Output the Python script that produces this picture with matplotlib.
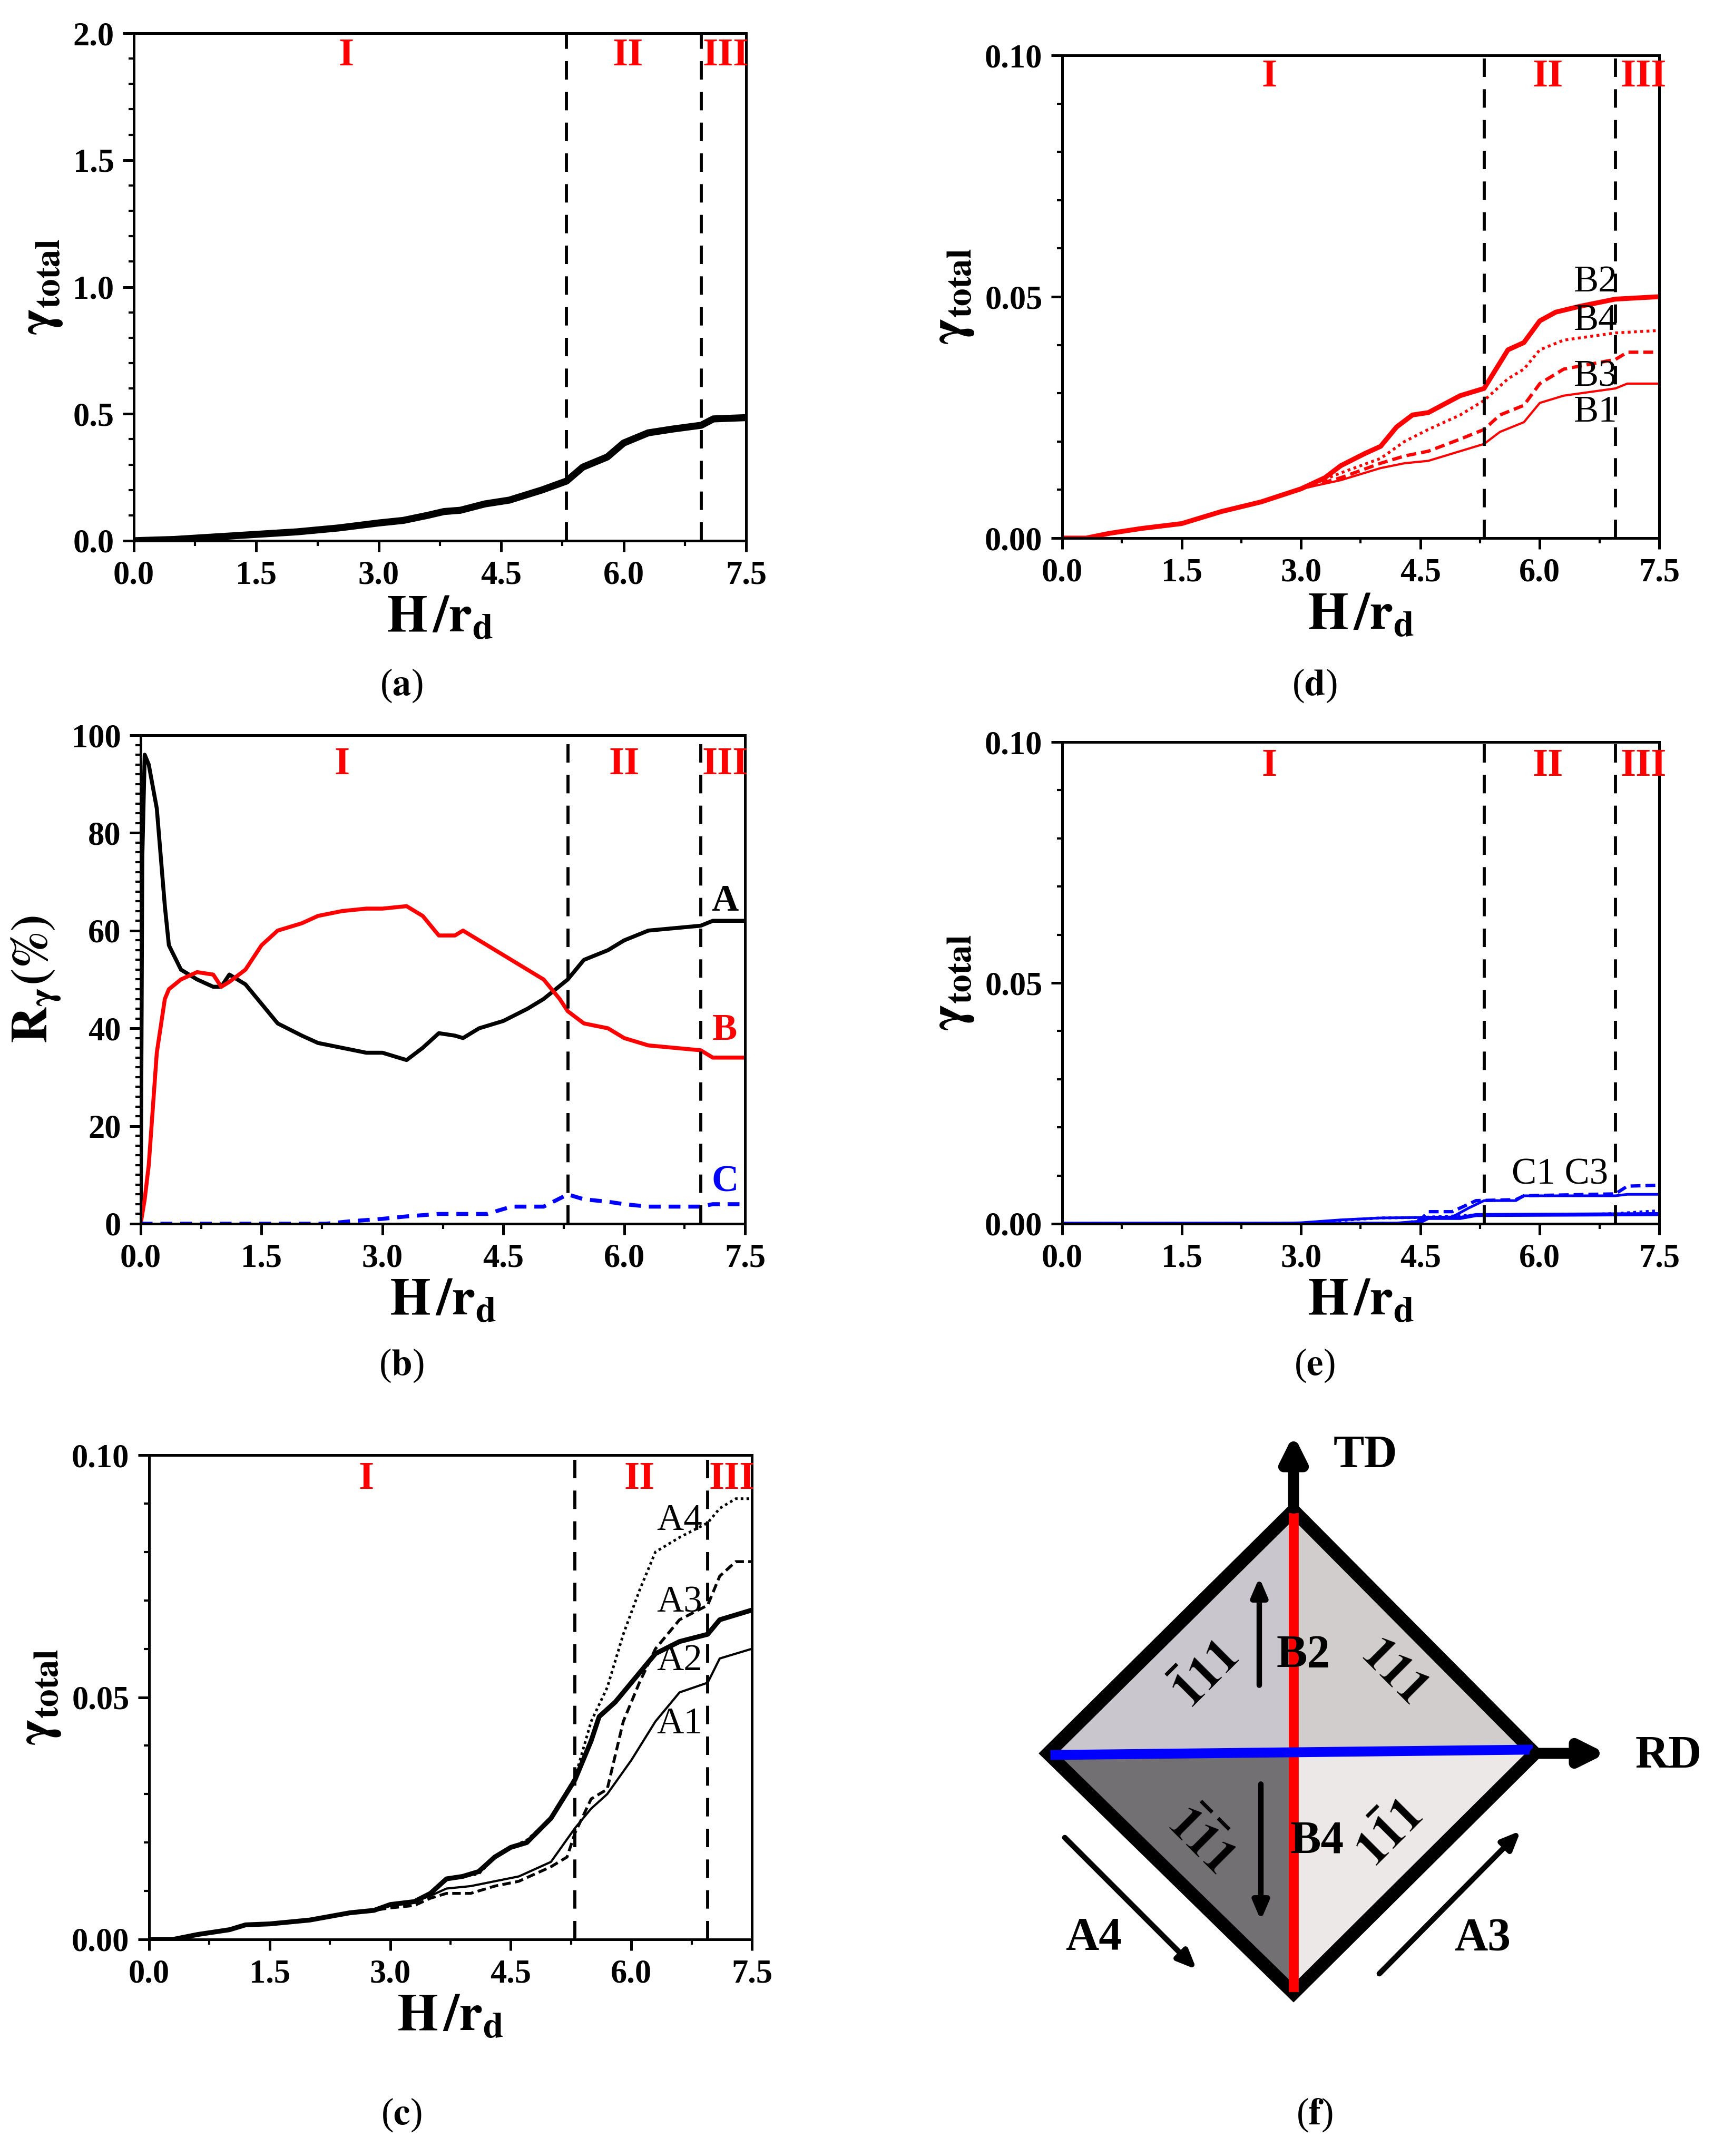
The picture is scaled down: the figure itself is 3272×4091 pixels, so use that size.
import numpy as np
import matplotlib.pyplot as plt
from matplotlib.patches import Polygon

plt.rcParams['font.family'] = 'Liberation Serif'
plt.rcParams['mathtext.fontset'] = 'stix'

W, H = 3272, 4091

# region borders (H/r_d)
STAGE_1_2 = 5.3
STAGE_2_3 = 6.95

# (a) total shear strain
a_x = [0, 0.5, 1, 1.5, 2, 2.5, 3, 3.3, 3.6, 3.8, 4, 4.3, 4.6, 5, 5.3, 5.5, 5.8, 6, 6.3, 6.6, 6.95, 7.1, 7.5]
a_y = [0, 0.005, 0.015, 0.025, 0.035, 0.05, 0.07, 0.08, 0.1, 0.115, 0.12, 0.145, 0.16, 0.2, 0.235,
       0.29, 0.33, 0.385, 0.425, 0.44, 0.455, 0.48, 0.485]

# (b) relative contribution of slip modes
bA_x = [0, 0.02, 0.05, 0.1, 0.2, 0.3, 0.35, 0.5, 0.7, 0.9, 1.0, 1.1, 1.3, 1.5, 1.7, 2, 2.2, 2.5, 2.8, 3.0,
        3.3, 3.5, 3.7, 3.9, 4.0, 4.2, 4.5, 4.8, 5.0, 5.3, 5.5, 5.8, 6.0, 6.3, 6.95, 7.1, 7.5]
bA_y = [0, 75, 96, 94, 85, 65, 57, 52, 50, 48.5, 48.5, 51, 49, 45, 41, 38.5, 37, 36, 35, 35,
        33.5, 36, 39, 38.5, 38, 40, 41.5, 44, 46, 50, 54, 56, 58, 60, 61, 62, 62]
bB_x = [0, 0.05, 0.1, 0.2, 0.3, 0.35, 0.5, 0.7, 0.9, 1.0, 1.1, 1.3, 1.5, 1.7, 2.0, 2.2, 2.5, 2.8, 3.0,
        3.3, 3.5, 3.7, 3.9, 4.0, 4.2, 4.5, 4.8, 5.0, 5.2, 5.3, 5.5, 5.8, 6.0, 6.3, 6.95, 7.1, 7.5]
bB_y = [0, 5, 12, 35, 46, 48, 50, 51.5, 51, 48.5, 49.5, 52, 57, 60, 61.5, 63, 64, 64.5, 64.5,
        65, 63, 59, 59, 60, 58, 55, 52, 50, 46, 43.5, 41, 40, 38, 36.5, 35.5, 34, 34]
bC_x = [0, 2.3, 2.6, 3.0, 3.3, 3.7, 4.3, 4.5, 4.6, 4.8, 5.0, 5.3, 5.5, 5.8, 6.0, 6.3, 6.95, 7.1, 7.5]
bC_y = [0, 0, 0.5, 1, 1.5, 2, 2, 3, 3.5, 3.5, 3.5, 6, 5, 4.5, 4, 3.5, 3.5, 4, 4]

# (c) A slip systems
c_base_x = [0, 0.3, 0.6, 1.0, 1.2, 1.5, 2, 2.5, 2.8, 3.0]
c_base_y = [0, 0, 0.001, 0.002, 0.003, 0.0032, 0.004, 0.0055, 0.006, 0.0072]
cA2_x = c_base_x + [3.3, 3.5, 3.7, 3.9, 4.1, 4.3, 4.5, 4.7, 5.0, 5.3, 5.5, 5.6, 5.8, 6.0, 6.3, 6.6, 6.95, 7.1, 7.5]
cA2_y = c_base_y + [0.0078, 0.0095, 0.0125, 0.013, 0.014, 0.017, 0.019, 0.02, 0.025, 0.033, 0.041, 0.046,
                    0.049, 0.053, 0.059, 0.0615, 0.063, 0.066, 0.068]
cA4_x = c_base_x + [3.3, 3.5, 3.7, 3.9, 4.1, 4.3, 4.5, 4.7, 5.0, 5.3, 5.5, 5.7, 5.9, 6.1, 6.3, 6.6, 6.95, 7.1, 7.3, 7.5]
cA4_y = c_base_y + [0.0078, 0.0095, 0.0125, 0.013, 0.0135, 0.017, 0.019, 0.0205, 0.025, 0.0335, 0.045, 0.052,
                    0.063, 0.072, 0.080, 0.083, 0.086, 0.089, 0.091, 0.091]
cA3_x = c_base_x + [3.3, 3.5, 3.7, 4.0, 4.3, 4.6, 5.0, 5.2, 5.3, 5.5, 5.7, 5.9, 6.1, 6.3, 6.6, 6.95, 7.1, 7.3, 7.5]
cA3_y = c_base_y[:-1] + [0.0065, 0.007, 0.0085, 0.0095, 0.0095, 0.011, 0.012, 0.015, 0.017, 0.022, 0.029,
                         0.031, 0.045, 0.053, 0.060, 0.066, 0.069, 0.075, 0.078, 0.078]
cA1_x = c_base_x + [3.3, 3.5, 3.7, 4.0, 4.3, 4.6, 5.0, 5.3, 5.5, 5.7, 6.0, 6.3, 6.6, 6.95, 7.1, 7.5]
cA1_y = c_base_y + [0.0078, 0.009, 0.0105, 0.011, 0.012, 0.013, 0.016, 0.023, 0.027, 0.030, 0.037, 0.045,
                    0.051, 0.053, 0.058, 0.060]

# (d) B slip systems
d_base_x = [0, 0.3, 0.6, 1.0, 1.5, 2.0, 2.5, 3.0]
d_base_y = [0, 0, 0.001, 0.002, 0.003, 0.0055, 0.0075, 0.0102]
dB2_x = d_base_x + [3.3, 3.5, 3.8, 4.0, 4.2, 4.4, 4.6, 5.0, 5.3, 5.45, 5.6, 5.8, 6.0, 6.2, 6.5, 6.95, 7.5]
dB2_y = d_base_y + [0.0125, 0.015, 0.0175, 0.019, 0.023, 0.0255, 0.026, 0.0295, 0.031, 0.035, 0.039,
                    0.0405, 0.045, 0.0468, 0.048, 0.0495, 0.050]
dB4_x = d_base_x + [3.5, 4.0, 4.3, 4.6, 5.0, 5.3, 5.6, 5.8, 6.0, 6.3, 6.95, 7.5]
dB4_y = d_base_y + [0.0135, 0.0165, 0.020, 0.0225, 0.0255, 0.0285, 0.033, 0.035, 0.039, 0.041, 0.0425, 0.043]
dB3_x = d_base_x + [3.5, 4.0, 4.3, 4.6, 5.0, 5.3, 5.5, 5.8, 6.0, 6.3, 6.95, 7.1, 7.5]
dB3_y = d_base_y + [0.0125, 0.0155, 0.017, 0.018, 0.0205, 0.0225, 0.0255, 0.0275, 0.032, 0.035, 0.037, 0.0385, 0.0385]
dB1_x = d_base_x + [3.5, 4.0, 4.3, 4.6, 5.0, 5.3, 5.5, 5.8, 6.0, 6.3, 6.95, 7.1, 7.5]
dB1_y = d_base_y + [0.012, 0.0145, 0.0155, 0.016, 0.018, 0.0195, 0.022, 0.024, 0.028, 0.0295, 0.031, 0.032, 0.032]

# (e) C slip systems
eC1_x = [0, 2.5, 3.0, 3.5, 4.0, 4.5, 4.9, 5.1, 5.3, 5.7, 5.8, 6.95, 7.1, 7.5]
eC1_y = [0, 0, 0.0002, 0.0008, 0.0012, 0.0013, 0.0014, 0.0032, 0.0048, 0.0048, 0.0058, 0.0058, 0.0061, 0.0061]
eC3_x = [0, 4.3, 4.5, 4.6, 4.9, 5.2, 5.7, 5.8, 6.95, 7.1, 7.5]
eC3_y = [0, 0, 0.0008, 0.0025, 0.0025, 0.0048, 0.0050, 0.0058, 0.0062, 0.0078, 0.0080]
eC2_x = [0, 4.2, 4.5, 4.6, 5.0, 5.2, 6.5, 7.5]
eC2_y = [0, 0, 0.0004, 0.0012, 0.0012, 0.0018, 0.0019, 0.0020]
eC4_x = [0, 3.0, 3.5, 4.0, 4.5, 5.2, 6.5, 6.95, 7.5]
eC4_y = [0, 0, 0.0007, 0.0012, 0.0013, 0.0018, 0.0019, 0.0021, 0.0027]

fig = plt.figure(figsize=(W / 300, H / 300), dpi=300)


def make_ax(l, r, t, b):
    return fig.add_axes([l / W, 1 - b / H, (r - l) / W, (b - t) / H])


def style(ax, ymax, yticks, ylabel, ytickfmt, minor_y):
    ax.set_xlim(0, 7.5)
    ax.set_ylim(0, ymax)
    ax.set_xticks(np.arange(0, 7.51, 1.5))
    ax.set_xticklabels([f'{v:.1f}' for v in np.arange(0, 7.51, 1.5)])
    ax.set_xticks(np.arange(0.75, 7.5, 1.5), minor=True)
    ax.set_yticks(yticks)
    ax.set_yticklabels([ytickfmt.format(v) for v in yticks])
    ax.set_yticks(minor_y, minor=True)
    ax.tick_params(which='major', direction='out', length=5, width=1.2, labelsize=15, pad=4)
    ax.tick_params(which='minor', direction='out', length=2.5, width=1)
    for lab in ax.get_xticklabels() + ax.get_yticklabels():
        lab.set_fontweight('bold')
    for s in ax.spines.values():
        s.set_linewidth(1.2)
    ax.set_xlabel(r'$\mathbf{H\,/r_d}$', fontsize=24, labelpad=2)
    ax.set_ylabel(ylabel, fontsize=23, labelpad=4)
    ax.axvline(STAGE_1_2, color='black', ls=(0, (6, 4)), lw=1.4)
    ax.axvline(STAGE_2_3, color='black', ls=(0, (6, 4)), lw=1.4)


def stages(ax, ypos, xs=(2.6, 6.05, 7.25)):
    for x, t in zip(xs, ['I', 'II', 'III']):
        ax.text(x, ypos, t, color='red', fontsize=18, fontweight='bold', ha='center', va='center')


gamma_label = r'$\mathbf{\gamma_{total}}$'

# (a)
ax = make_ax(254, 1416, 63, 1026)
ax.plot(a_x, a_y, color='black', lw=3.2)
style(ax, 2.0, np.arange(0, 2.01, 0.5), gamma_label, '{:.1f}', np.arange(0.1, 2.0, 0.1))
stages(ax, 1.91)

# (b)
ax = make_ax(267, 1414, 1395, 2322)
ax.plot(bA_x, bA_y, color='black', lw=1.8)
ax.plot(bB_x, bB_y, color='red', lw=1.8)
ax.plot(bC_x, bC_y, color='blue', lw=1.8, ls=(0, (3, 2)))
style(ax, 100, np.arange(0, 101, 20), r'$\mathbf{R_{\gamma}(\%)}$', '{:.0f}', np.arange(2, 100, 2))
stages(ax, 94, xs=(2.5, 6.0, 7.25))
ax.text(7.25, 66, 'A', color='black', fontsize=17, fontweight='bold', ha='center', va='center')
ax.text(7.25, 39.5, 'B', color='red', fontsize=17, fontweight='bold', ha='center', va='center')
ax.text(7.25, 8.5, 'C', color='blue', fontsize=17, fontweight='bold', ha='center', va='center')

# (c)
ax = make_ax(283, 1427, 2761, 3680)
ax.plot(cA4_x, cA4_y, color='black', lw=1.2, ls=(0, (1, 1.2)))
ax.plot(cA3_x, cA3_y, color='black', lw=1.3, ls=(0, (3, 1.5)))
ax.plot(cA2_x, cA2_y, color='black', lw=2.2)
ax.plot(cA1_x, cA1_y, color='black', lw=1.0)
style(ax, 0.1, [0, 0.05, 0.1], gamma_label, '{:.2f}', np.arange(0.01, 0.1, 0.01))
ax.set_yticklabels(['0.00', '0.05', '0.10'])
stages(ax, 0.095, xs=(2.7, 6.1, 7.25))
for t, y in [('A4', 0.0865), ('A3', 0.0695), ('A2', 0.0575), ('A1', 0.0445)]:
    ax.text(6.6, y, t, fontsize=17, ha='center', va='center')

# (d)
ax = make_ax(2016, 3149, 105, 1021)
ax.plot(dB2_x, dB2_y, color='red', lw=2.2)
ax.plot(dB4_x, dB4_y, color='red', lw=1.3, ls=(0, (1, 1.2)))
ax.plot(dB3_x, dB3_y, color='red', lw=1.5, ls=(0, (3, 1.5)))
ax.plot(dB1_x, dB1_y, color='red', lw=1.0)
style(ax, 0.1, [0, 0.05, 0.1], gamma_label, '{:.2f}', np.arange(0.01, 0.1, 0.01))
stages(ax, 0.0955, xs=(2.6, 6.1, 7.3))
for t, y in [('B2', 0.053), ('B4', 0.045), ('B3', 0.0334), ('B1', 0.026)]:
    ax.text(6.7, y, t, fontsize=17, ha='center', va='center')

# (e)
ax = make_ax(2016, 3149, 1408, 2322)
ax.plot(eC3_x, eC3_y, color='blue', lw=1.5, ls=(0, (3, 1.5)))
ax.plot(eC1_x, eC1_y, color='blue', lw=1.2)
ax.plot(eC4_x, eC4_y, color='blue', lw=1.3, ls=(0, (1, 1.2)))
ax.plot(eC2_x, eC2_y, color='blue', lw=1.8)
style(ax, 0.1, [0, 0.05, 0.1], gamma_label, '{:.2f}', np.arange(0.01, 0.1, 0.01))
stages(ax, 0.095, xs=(2.6, 6.1, 7.3))
ax.text(6.25, 0.0102, 'C1 C3', fontsize=17, ha='center', va='center')

# panel captions
for t, (x, y) in zip('adbecf', [(762, 1301), (2495, 1301), (762, 2591), (2495, 2591), (762, 4013), (2495, 4013)]):
    fig.text(x / W, 1 - y / H, '(' + r'$\mathbf{' + t + '}$' + ')', fontsize=17, ha='center', va='center')

# (f) stereographic sketch, drawn in figure pixel coordinates
ov = fig.add_axes([0, 0, 1, 1])
ov.set_xlim(0, W)
ov.set_ylim(H, 0)
ov.axis('off')
top, left, right, bot = (2455, 2866), (1989, 3327), (2913, 3327), (2455, 3782)
ctr = (2455, 3327)
quads = [([top, left, ctr], '#c9c7cd'), ([top, ctr, right], '#d2cdcd'),
         ([left, bot, ctr], '#737073'), ([ctr, bot, right], '#ece8e8')]
for pts, c in quads:
    ov.add_patch(Polygon(pts, closed=True, fc=c, ec='none'))
ov.plot([2455, 2455], [2880, 3770], color='red', lw=4.5)
ov.plot([2003, 2900], [3330, 3320], color='blue', lw=4.5)
ov.add_patch(Polygon([top, right, bot, left], closed=True, fc='none', ec='black', lw=6, joinstyle='miter'))
arrow = dict(arrowstyle='-|>,head_width=0.45,head_length=0.9', color='black', lw=5)
ov.annotate('', xy=(2455, 2714), xytext=(2455, 2870), arrowprops=arrow)
ov.annotate('', xy=(3057, 3327), xytext=(2905, 3327), arrowprops=arrow)
thin = dict(arrowstyle='-|>,head_width=0.3,head_length=0.7', color='black', lw=2.5)
ov.annotate('', xy=(2390, 2985), xytext=(2390, 3206), arrowprops=thin)
ov.annotate('', xy=(2393, 3652), xytext=(2393, 3377), arrowprops=thin)
ov.annotate('', xy=(2277, 3743), xytext=(2015, 3481), arrowprops=thin)
ov.annotate('', xy=(2892, 3468), xytext=(2612, 3751), arrowprops=thin)
big = dict(fontsize=21, fontweight='bold', ha='center', va='center')
ov.text(2591, 2762, 'TD', **big)
ov.text(3167, 3332, 'RD', **big)
ov.text(2076, 3678, 'A4', **big)
ov.text(2814, 3678, 'A3', **big)
ov.text(2474, 3141, 'B2', **big)
ov.text(2500, 3494, 'B4', **big)
ov.text(2290, 3180, r'$\mathbf{\bar{1}11}$', fontsize=22, rotation=45, ha='center', va='center')
ov.text(2644, 3172, r'$\mathbf{111}$', fontsize=22, rotation=-45, ha='center', va='center')
ov.text(2277, 3494, r'$\mathbf{\bar{1}\bar{1}1}$', fontsize=22, rotation=-45, ha='center', va='center')
ov.text(2639, 3481, r'$\mathbf{1\bar{1}1}$', fontsize=22, rotation=45, ha='center', va='center')

fig.savefig('out.png', dpi=300)
